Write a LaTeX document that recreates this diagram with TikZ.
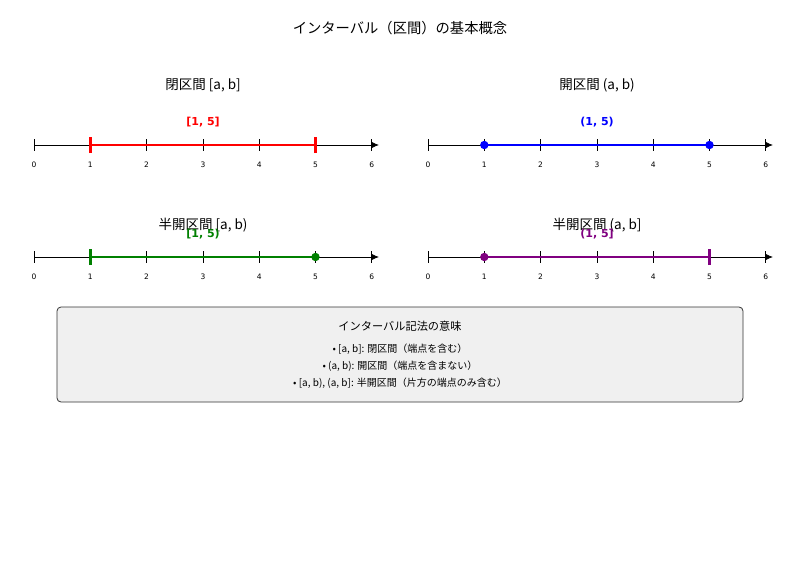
\documentclass[tikz,border=0pt]{standalone}
\usepackage{fontspec}
\setmainfont{DejaVu Sans}
\newfontfamily\jp{Noto Sans CJK JP}
\usetikzlibrary{arrows.meta}
\definecolor{boxfill}{HTML}{F0F0F0}
\definecolor{boxline}{HTML}{333333}
\definecolor{ivgreen}{HTML}{008000}
\definecolor{ivpurple}{HTML}{800080}
\tikzset{
  axisline/.style={black, line width=0.8pt, -{Latex[length=7pt,width=6pt]}},
  tickmark/.style={black, line width=0.7pt},
  ticklab/.style={font=\fontsize{7.5}{8}\selectfont, inner sep=0pt},
  subtitle/.style={font=\jp\fontsize{13.5}{15}\selectfont, inner sep=0pt},
  ivlab/.style={font=\bfseries\fontsize{11}{12}\selectfont, inner sep=0pt},
  ivline/.style={line width=2.8pt},
  closedend/.style={line width=3pt},
  boxtext/.style={font=\jp\fontsize{10}{11}\selectfont, inner sep=0pt},
}
\newcommand\myaxis[3]{%
  \coordinate (#1s) at (#2,#3);
  \coordinate (#1e) at (#2+345,#3);
  \draw[axisline] (#1s) -- (#1e);
  \foreach \i in {0,...,6} {
    \draw[tickmark] (#2+56.3*\i,#3-6) -- (#2+56.3*\i,#3+6);
    \node[ticklab] (#1t\i) at (#2+56.3*\i,#3+20) {\i};
  }
  \coordinate (#1a) at (#2+56.3,#3);
  \coordinate (#1b) at (#2+281.5,#3);
}
\begin{document}
\begin{tikzpicture}[x=1pt,y=-1pt]
\useasboundingbox (0,0) rectangle (800,570);
\node[font=\jp\fontsize{14.3}{16}\selectfont, inner sep=0pt] (title) at (400,28.5) {インターバル（区間）の基本概念};

% closed
\node[subtitle] (st1) at (203,85.5) {閉区間 [a, b]};
\myaxis{A}{34}{145}
\draw[ivline, red] (Aa) -- (Ab);
\draw[closedend, red] ([yshift=-8pt]Aa) -- ([yshift=8pt]Aa);
\draw[closedend, red] ([yshift=-8pt]Ab) -- ([yshift=8pt]Ab);
\node[ivlab, red] (l1) at (203,122.5) {[1, 5]};

% open
\node[subtitle] (st2) at (597,85.5) {開区間 (a, b)};
\myaxis{B}{428}{145}
\draw[ivline, blue] (Ba) -- (Bb);
\fill[blue] (Ba) circle (4.2);
\fill[blue] (Bb) circle (4.2);
\node[ivlab, blue] (l2) at (597,122.5) {(1, 5)};

% half open [a,b)
\node[subtitle] (st3) at (203,225.5) {半開区間 [a, b)};
\myaxis{C}{34}{257}
\draw[ivline, ivgreen] (Ca) -- (Cb);
\draw[closedend, ivgreen] ([yshift=-8pt]Ca) -- ([yshift=8pt]Ca);
\fill[ivgreen] (Cb) circle (4.2);
\node[ivlab, ivgreen] (l3) at (203,234.5) {[1, 5)};

% half open (a,b]
\node[subtitle] (st4) at (597,225.5) {半開区間 (a, b]};
\myaxis{D}{428}{257}
\draw[ivline, ivpurple] (Da) -- (Db);
\fill[ivpurple] (Da) circle (4.2);
\draw[closedend, ivpurple] ([yshift=-8pt]Db) -- ([yshift=8pt]Db);
\node[ivlab, ivpurple] (l4) at (597,234.5) {(1, 5]};

% legend box
\node[draw=boxline, fill=boxfill, line width=0.8pt, rounded corners=4pt, minimum width=686pt, minimum height=95pt, inner sep=0pt] (box) at (400,354.5) {};
\node[font=\jp\fontsize{11.2}{12}\selectfont, inner sep=0pt] (bh) at (400,326) {インターバル記法の意味};
\node[boxtext] (b1) at (400,349) {• [a, b]: 閉区間（端点を含む）};
\node[boxtext] (b2) at (400,366) {• (a, b): 開区間（端点を含まない）};
\node[boxtext] (b3) at (400,383) {• [a, b), (a, b]: 半開区間（片方の端点のみ含む）};
\end{tikzpicture}
\end{document}
